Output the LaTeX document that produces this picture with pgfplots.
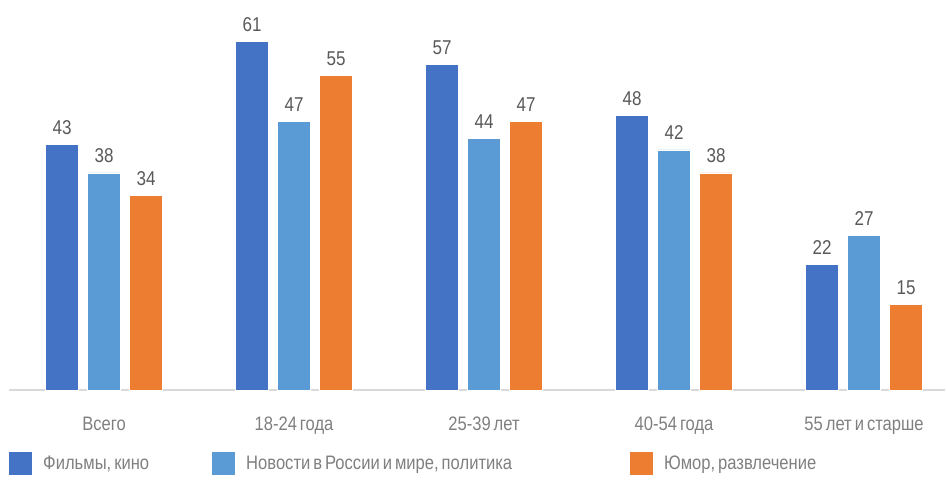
\documentclass[border=0pt]{standalone}
\usepackage{pgfplots}
\pgfplotsset{compat=1.18}
\usepackage{fontspec}
\setmainfont[FakeStretch=0.85, WordSpace=0.65]{Liberation Sans}
\definecolor{cA}{HTML}{4472C4}
\definecolor{cB}{HTML}{5B9BD5}
\definecolor{cC}{HTML}{ED7D31}
\definecolor{txtnum}{HTML}{595959}
\definecolor{txtlab}{HTML}{7F7F7F}
\definecolor{axline}{HTML}{D9D9D9}
\begin{document}
\begin{tikzpicture}
\useasboundingbox (0,0) rectangle (947pt,479pt);
\begin{axis}[
  at={(9pt,89pt)}, anchor=south west,
  scale only axis, width=936pt, height=400pt,
  xmin=-0.5, xmax=4.426, ymin=0, ymax=70,
  ybar, bar width=33pt,
  axis x line=bottom, axis y line=none,
  x axis line style={-, draw=axline, line width=1.2pt},
  xtick={0,1,2,3,4},
  xticklabels={Всего,18-24 года,25-39 лет,40-54 года,55 лет и старше},
  major tick length=0pt,
  /pgf/number format/assume math mode=true,
  xticklabel style={font=\fontsize{19.5}{22}\selectfont, text=txtlab, anchor=base, yshift=-40pt},
  nodes near coords,
  every node near coord/.append style={font=\fontsize{20}{22}\selectfont, text=txtnum, anchor=base, yshift=10pt},
  legend columns=3,
  legend style={at={(0,0)}, anchor=north west, yshift=-62pt, draw=none, fill=none, inner sep=0pt,
    font=\fontsize{19.5}{22}\selectfont, text=txtlab,
    /tikz/every odd column/.append style={column sep=9pt}},
  legend cell align=left,
  legend image code/.code={\fill[#1, draw=none] (0pt,-11.5pt) rectangle (23pt,11.5pt);},
]
\addplot[fill=cA, draw=white, line width=0.6pt, bar shift=-42pt] coordinates {(0,43) (1,61) (2,57) (3,48) (4,22)};
\addlegendentry{\makebox[167pt][l]{Фильмы, кино}}
\addplot[fill=cB, draw=white, line width=0.6pt, bar shift=0pt] coordinates {(0,38) (1,47) (2,44) (3,42) (4,27)};
\addlegendentry{\makebox[382pt][l]{Новости в России и мире, политика}}
\addplot[fill=cC, draw=white, line width=0.6pt, bar shift=42pt] coordinates {(0,34) (1,55) (2,47) (3,38) (4,15)};
\addlegendentry{Юмор, развлечение}
\end{axis}
\end{tikzpicture}
\end{document}
